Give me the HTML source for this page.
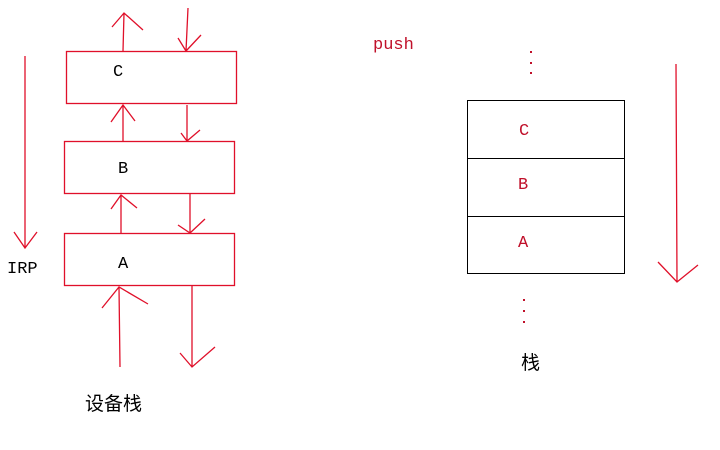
<!DOCTYPE html>
<html><head><meta charset="utf-8"><style>body{margin:0;background:#fff}svg{display:block}</style></head><body>
<svg width="720" height="450" xmlns="http://www.w3.org/2000/svg">
<g fill="none" stroke="#e0102a" stroke-width="1.3">
<rect x="66.5" y="51.5" width="170" height="52"/>
<rect x="64.5" y="141.5" width="170" height="52"/>
<rect x="64.5" y="233.5" width="170" height="52"/>
<path d="M123 51L124 13M112 27L124 13L143 30"/>
<path d="M188 8L186 51M178 38L186 51L201 35"/>
<path d="M123 141L123 105M111 122L123 105L135 121"/>
<path d="M187 105L187 141M181 133L187 141L200 130"/>
<path d="M121 233L121 195M111 209L121 195L137 208"/>
<path d="M190 193L190 233M178 225L190 233L205 219"/>
<path d="M120 367L119 287M102 308L119 287L148 304"/>
<path d="M192 286L192 367M180 353L192 367L215 347"/>
<path d="M25 56L25 248M14 232L25 248L37 232"/>
<path d="M676 64L677 282M658 262L677 282L698 265"/>
</g>
<g fill="none" stroke="#000" stroke-width="1">
<rect x="467.5" y="100.5" width="157" height="173"/>
<path d="M467 158.5H624M467 216.5H624"/>
</g>
<g fill="#c0102a">
<rect x="530" y="51" width="2" height="2"/><rect x="530" y="62" width="2" height="2"/><rect x="530" y="72" width="2" height="2"/>
<rect x="523" y="299" width="2" height="2"/><rect x="523" y="310" width="2" height="2"/><rect x="523" y="321" width="2" height="2"/>
</g>
<g font-family="Liberation Mono, monospace" font-size="17">
<text x="113" y="76">C</text><text x="118" y="173">B</text><text x="118" y="268">A</text>
<text x="7" y="273">IRP</text>
<g fill="#c0102a"><text x="373" y="49">push</text>
<text x="519" y="135">C</text><text x="518" y="189">B</text><text x="518" y="247">A</text></g>
</g>
<g font-family="Liberation Sans, 'Noto Sans CJK SC', sans-serif" font-size="19">
<text x="85" y="410">设备栈</text><text x="521" y="369">栈</text>
</g>
</svg>
</body></html>
